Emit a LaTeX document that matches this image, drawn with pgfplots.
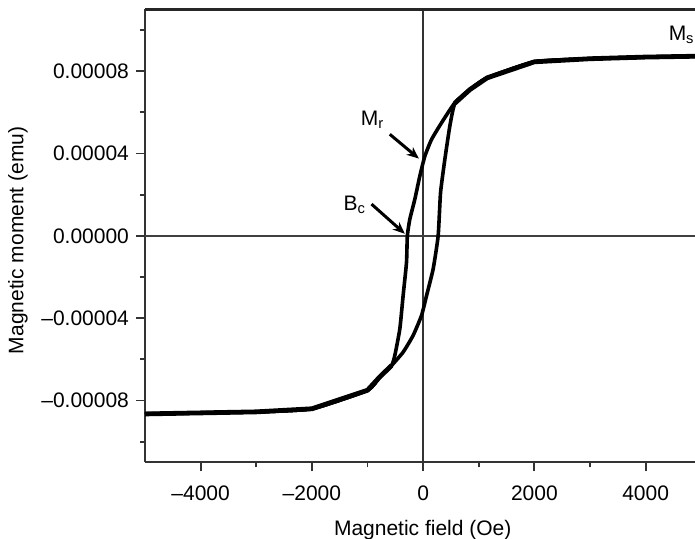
\documentclass[border=0pt]{standalone}
\usepackage{fontspec}
\setmainfont{Liberation Sans}
\usepackage{pgfplots}
\pgfplotsset{compat=1.18}
\usetikzlibrary{arrows.meta}
\begin{document}
\begin{tikzpicture}
\begin{axis}[
    name=ax,
    at={(0,0)}, anchor=south west,
    scale only axis, width=275pt, height=226.5pt,
    xmin=-5000, xmax=4887,
    ymin=-0.00011, ymax=0.00011,
    axis x line=bottom, axis y line=left,
    axis line style={-, line width=0.9pt, black!80},
    xtick={-4000,-2000,0,2000,4000},
    xticklabels={–4000,–2000,0,2000,4000},
    minor xtick={-3000,-1000,1000,3000},
    ytick={-0.00008,-0.00004,0,0.00004,0.00008},
    yticklabels={–0.00008,–0.00004,0.00000,0.00004,0.00008},
    minor ytick={-0.0001,-0.00006,-0.00002,0.00002,0.00006,0.0001},
    tick align=outside,
    major tick length=4.5pt, minor tick length=2.5pt,
    every tick/.style={black!80, line width=0.9pt},
    tick label style={font=\fontsize{10.5}{12}\selectfont},
    xticklabel style={yshift=-3.5pt},
    label style={font=\fontsize{10.5}{12}\selectfont},
    xlabel={Magnetic field (Oe)},
    ylabel={Magnetic moment (emu)},
    xlabel style={at={(axis description cs:0.505,-0.162)}, anchor=base},
    ylabel style={at={(axis description cs:-0.2213,0.49)}, anchor=base},
    clip=false,
]
% zero lines
\draw[black!80, line width=0.8pt] (axis cs:0,-0.00011) -- (axis cs:0,0.00011);
\draw[black!75, line width=0.8pt] (axis cs:-5000,0) -- (axis cs:4887,0);

% descending branch
\addplot[black, line width=1.8pt, line join=round, smooth, tension=0.3] coordinates {
    (4887,8.72e-5) (4000,8.68e-5) (3000,8.6e-5) (2000,8.45e-5) (1150,7.67e-5)
    (840,7.1e-5) (570,6.46e-5) (331,5.49e-5) (151,4.68e-5) (31,3.87e-5)
    (-59,2.91e-5) (-149,1.78e-5) (-239,0.81e-5) (-284,0) (-299,-1.29e-5)
    (-360,-2.91e-5) (-419,-4.52e-5) (-509,-5.81e-5) (-568,-6.3e-5)
    (-779,-6.85e-5) (-1000,-7.5e-5) (-2000,-8.4e-5) (-3000,-8.55e-5)
    (-4000,-8.6e-5) (-5000,-8.65e-5)
};
% ascending branch
\addplot[black, line width=1.8pt, line join=round, smooth, tension=0.3] coordinates {
    (-5000,-8.65e-5) (-4000,-8.6e-5) (-3000,-8.55e-5) (-2000,-8.4e-5)
    (-1000,-7.5e-5) (-779,-6.85e-5) (-568,-6.3e-5) (-360,-5.65e-5)
    (-180,-4.84e-5) (-29,-3.87e-5) (61,-2.91e-5) (180,-1.61e-5) (270,0)
    (313,2.1e-5) (390,3.71e-5) (480,5.33e-5) (570,6.42e-5) (840,7.1e-5)
    (1150,7.67e-5) (2000,8.45e-5) (3000,8.6e-5) (4000,8.68e-5) (4887,8.72e-5)
};
% thicker saturated tails
\addplot[black, line width=2.4pt, line join=round] coordinates {
    (-5000,-8.65e-5) (-4000,-8.6e-5) (-3000,-8.55e-5) (-2000,-8.4e-5)
    (-1000,-7.5e-5) (-779,-6.85e-5) (-568,-6.3e-5)
};
\addplot[black, line width=2.4pt, line join=round] coordinates {
    (570,6.44e-5) (840,7.1e-5) (1150,7.67e-5) (2000,8.45e-5)
    (3000,8.6e-5) (4000,8.68e-5) (4887,8.72e-5)
};

% annotations
\node[font=\fontsize{10.5}{12}\selectfont] at (axis cs:-907,5.65e-5) {M\textsubscript{r}};
\draw[-{Stealth[length=6pt,width=5pt]}, line width=1.5pt] (axis cs:-599,4.93e-5) -- (axis cs:-77,3.75e-5);
\node[font=\fontsize{10.5}{12}\selectfont] at (axis cs:-1229,1.49e-5) {B\textsubscript{c}};
\draw[-{Stealth[length=6pt,width=5pt]}, line width=1.5pt] (axis cs:-928,1.54e-5) -- (axis cs:-329,0.1e-5);
\node[font=\fontsize{10.5}{12}\selectfont, anchor=east, inner sep=0pt] at (axis cs:4887,9.77e-5) {M\textsubscript{s}};
\end{axis}
% top frame line
\draw[black!85, line width=1.4pt] (ax.north west) -- (ax.north east);
\pgfresetboundingbox
\path[use as bounding box] (-72.5pt,-37.85pt) rectangle (275pt,231.15pt);
\end{tikzpicture}
\end{document}
